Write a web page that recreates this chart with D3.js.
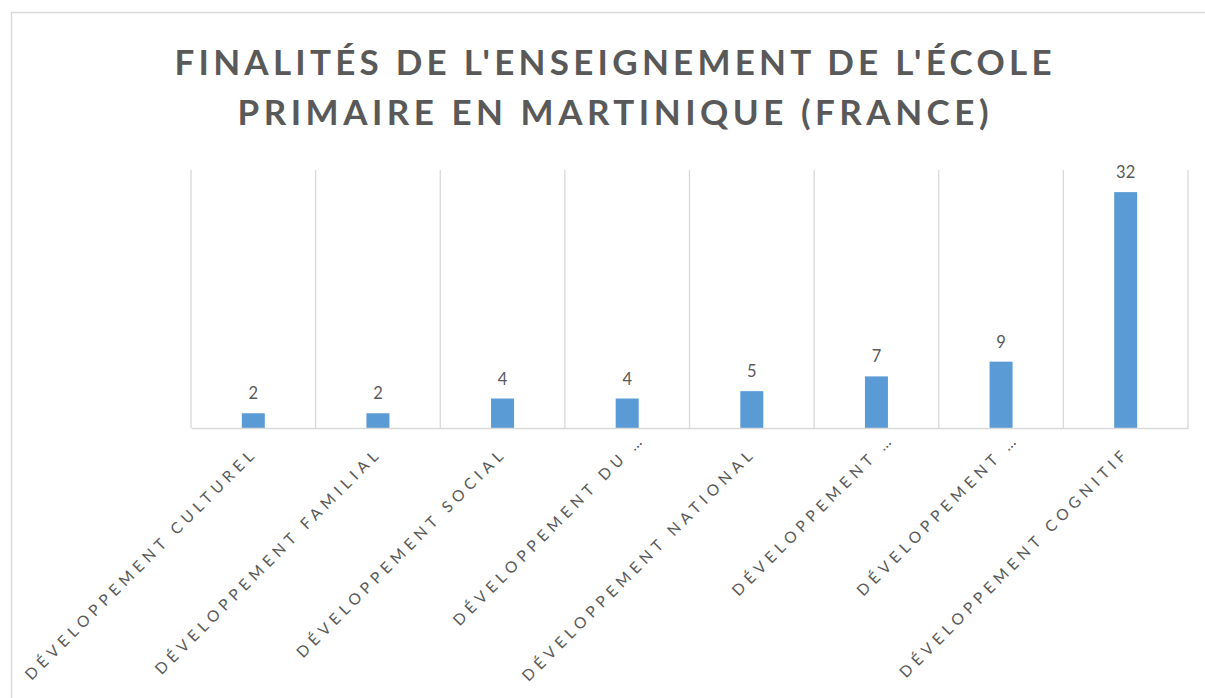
<!DOCTYPE html>
<html><head><meta charset="utf-8">
<script src="https://cdn.jsdelivr.net/npm/d3@7"></script>
<style>body{margin:0;background:#fff}svg{display:block}</style>
</head><body>
<svg id="c" width="1205" height="698"></svg>
<script>
const categories = ["DÉVELOPPEMENT CULTUREL","DÉVELOPPEMENT FAMILIAL","DÉVELOPPEMENT SOCIAL","DÉVELOPPEMENT DU …","DÉVELOPPEMENT NATIONAL","DÉVELOPPEMENT …","DÉVELOPPEMENT …","DÉVELOPPEMENT COGNITIF"];
const values = [2,2,4,4,5,7,9,32];
const titleLines = ["FINALITÉS DE L'ENSEIGNEMENT DE L'ÉCOLE","PRIMAIRE EN MARTINIQUE (FRANCE)"];
const yMax = 35;

const svg = d3.select("#c");
const grey = "#595959", lineC = "#d9d9d9";
const font = "Lato, 'Open Sans', sans-serif";
svg.append("rect").attr("x",11.5).attr("y",12.5).attr("width",1200).attr("height",700)
  .attr("fill","#fff").attr("stroke",lineC).attr("stroke-width",1.5);

const m = {l:191, r:1188, t:170, b:428};
const x = d3.scaleBand().domain(categories.map((d,i)=>i)).range([m.l,m.r]).paddingInner(0).paddingOuter(0);
const y = d3.scaleLinear().domain([0,yMax]).range([m.b,m.t]);

const bounds = d3.range(categories.length+1).map(i=>m.l + i*x.step());
svg.append("g").selectAll("line").data(bounds).join("line")
  .attr("x1",d=>d).attr("x2",d=>d).attr("y1",m.t).attr("y2",m.b)
  .attr("stroke",lineC).attr("stroke-width",1.3);

const bw = 23;
svg.append("g").selectAll("rect").data(values).join("rect")
  .attr("x",(d,i)=>x(i)+x.bandwidth()/2-bw/2).attr("width",bw)
  .attr("y",d=>y(d)).attr("height",d=>y(0)-y(d)).attr("fill","#5b9bd5");

const xa = d3.axisBottom(x).tickSize(0).tickFormat(i=>categories[i]);
const gx = svg.append("g").attr("transform",`translate(0,${m.b})`).call(xa);
gx.select(".domain").attr("stroke",lineC).attr("stroke-width",1.5);
gx.selectAll("text").attr("fill",grey).attr("font-family",font)
  .attr("font-size",15.5).attr("letter-spacing","5px").attr("text-anchor","end")
  .attr("dy",0).attr("y",0)
  .attr("dx",(i)=>categories[i].endsWith("…") ? 20 : 0)
  .attr("transform","translate(5,26) rotate(-45)");

svg.append("g").selectAll("text").data(values).join("text")
  .attr("x",(d,i)=>x(i)+x.bandwidth()/2).attr("y",d=>y(d)-14)
  .attr("text-anchor","middle").attr("fill",grey)
  .attr("font-family",font).attr("font-size",16.5).text(d=>d);

const tw = [877, 751];
svg.append("g").selectAll("text").data(titleLines).join("text")
  .attr("x",613).attr("y",(d,i)=>75+i*50).attr("text-anchor","middle")
  .attr("fill",grey).attr("font-family",font).attr("font-weight","bold")
  .attr("font-size",35).attr("textLength",(d,i)=>tw[i]).attr("lengthAdjust","spacing")
  .text(d=>d);
</script>
</body></html>
